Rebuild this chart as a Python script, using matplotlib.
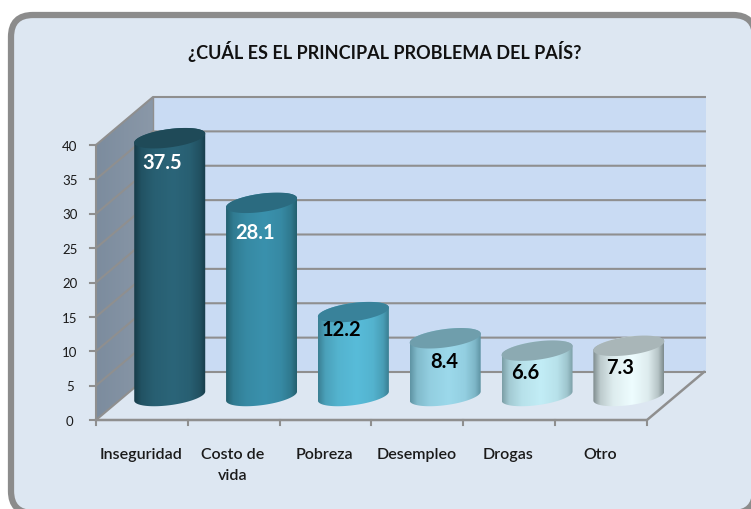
import numpy as np
import matplotlib
matplotlib.use('Agg')
import matplotlib.pyplot as plt
from matplotlib.colors import LinearSegmentedColormap, to_rgb
from matplotlib.patches import FancyBboxPatch, Polygon

plt.rcParams['font.family'] = ['Lato', 'DejaVu Sans']

title = '¿CUÁL ES EL PRINCIPAL PROBLEMA DEL PAÍS?'
categories = ['Inseguridad', 'Costo de\nvida', 'Pobreza', 'Desempleo', 'Drogas', 'Otro']
values = [37.5, 28.1, 12.2, 8.4, 6.6, 7.3]
y_ticks = [0, 5, 10, 15, 20, 25, 30, 35, 40]

side_colors = ['#173c49', '#24606f', '#3a7f93', '#5f94a4', '#7c9fa7', '#7f8c8e']
mid_colors = ['#2b6579', '#3a91ad', '#58bcd9', '#9cd9eb', '#c2edf6', '#eefdff']
top_colors = ['#1f4a58', '#2b6b80', '#39829a', '#6f9eac', '#8caab2', '#a9b6b8']
label_colors = ['white', 'white', 'black', 'black', 'black', 'black']
# nudges of the value labels in pixels
label_dx = [-8, -6, -12, -1, -12, -9]
label_dy = [-24, -29, -17, -23, -21, -21]

W, H = 751, 510
X0, Y0 = 96, 421          # front corner of the axes, in pixels
CAT_W, UNIT = 91.83, 6.875  # pixels per category / per value unit
DX = 57 / CAT_W            # depth of the box
DY = 48 / UNIT
GRAY = '#8f8f8f'


def blend(c1, c2, f):
    c1, c2 = np.array(to_rgb(c1)), np.array(to_rgb(c2))
    return tuple(c1 + (c2 - c1) * f)


fig = plt.figure(figsize=(W / 100, H / 100), dpi=100, facecolor='white')
bg = fig.add_axes([0, 0, 1, 1])
bg.set_xlim(0, W)
bg.set_ylim(H, 0)
bg.axis('off')
bg.add_patch(FancyBboxPatch((11, 16), 744, 498, boxstyle='round,pad=0,rounding_size=22',
                            fc='#dde7f2', ec='#8c8c8c', lw=4.5))

ax = fig.add_axes([0, 0, 1, 1])
ax.patch.set_alpha(0)
xlim = (-X0 / CAT_W, (W - X0) / CAT_W)
ylim = ((Y0 - H) / UNIT, Y0 / UNIT)
ax.axis('off')
n = len(categories)
top = y_ticks[-1]
back_end = DX + n + 2 / CAT_W

# back wall, side wall
ax.add_patch(Polygon([(DX, DY), (back_end, DY), (back_end, DY + top), (DX, DY + top)],
                     fc='#c9dbf3', ec='none', zorder=1))
wall = Polygon([(0, 0), (DX, DY), (DX, DY + top), (0, top)], fc='none', ec='none', zorder=2)
ax.add_patch(wall)
im = ax.imshow(np.linspace(0, 1, 64).reshape(1, -1),
               cmap=LinearSegmentedColormap.from_list('w', ['#7c8c9e', '#8a98a8']),
               extent=(0, DX, 0, DY + top), aspect='auto', zorder=2)
im.set_clip_path(wall)

# gridlines
for t in y_ticks:
    ax.plot([0, DX, back_end], [t, t + DY, t + DY], color=GRAY, lw=1.5, zorder=3,
            solid_capstyle='butt')
    ax.plot([-0.065, 0], [t, t], color=GRAY, lw=1.5, zorder=3)
    ax.text(-0.285, t - 0.1, str(t), ha='center', va='center', fontsize=9.5, color='#1a1a1a')
ax.plot([DX, DX], [DY, DY + top], color=GRAY, lw=1, zorder=3)
ax.plot([0, 0], [0, top], color=GRAY, lw=1.5, zorder=3)
ax.plot([0, n, n + DX], [0, 0, DY], color=GRAY, lw=1.8, zorder=3)
for i in range(n + 1):
    ax.plot([i, i], [0, -0.75], color=GRAY, lw=1.5, zorder=3)

# cylinders
a = 35.5 / CAT_W
b = 9.2 / UNIT
tilt = 4.5 / UNIT / a
t = np.linspace(0, 2 * np.pi, 181)
for i, v in enumerate(values):
    cx = i + 0.5 + DX / 2 - 0.7 / CAT_W
    base = DY / 2
    xs = cx + a * np.cos(t)
    dy = tilt * a * np.cos(t) + b * np.sin(t)
    lower = np.sin(t) < 0
    order = np.argsort(xs[lower])
    low_x, low_y = xs[lower][order], (base + dy[lower])[order]
    upper_order = np.argsort(xs[~lower])[::-1]
    up_x, up_y = xs[~lower][upper_order], (base + v + dy[~lower])[upper_order]
    body = Polygon(np.column_stack([np.r_[low_x, up_x], np.r_[low_y, up_y]]),
                   fc='none', ec='none', zorder=5)
    ax.add_patch(body)
    s, m = side_colors[i], mid_colors[i]
    cmap = LinearSegmentedColormap.from_list(
        'c%d' % i,
        [(0, s), (0.1, blend(s, m, 0.55)), (0.28, blend(s, m, 0.85)), (0.55, m),
         (0.78, blend(s, m, 0.85)), (0.92, blend(s, m, 0.5)), (1, s)])
    im = ax.imshow(np.linspace(0, 1, 128).reshape(1, -1), cmap=cmap,
                   extent=(cx - a, cx + a, base - b - 1, base + v + b), aspect='auto', zorder=5)
    im.set_clip_path(body)
    ax.add_patch(Polygon(np.column_stack([xs, base + v + dy]), fc=top_colors[i], ec='none', zorder=6))
    ax.annotate('%.1f' % v, (cx, base + v), xytext=(label_dx[i] * 0.72, label_dy[i] * 0.72),
                textcoords='offset points', ha='center', va='center', fontsize=14.5,
                fontweight='bold', color=label_colors[i], zorder=7)

# category labels
for i, c in enumerate(categories):
    ax.text(i + 0.49, -3.9, c, ha='center', va='top', fontsize=11.5, color='#1a1a1a',
            linespacing=1.65, fontweight='semibold')

ax.set_xlim(xlim)
ax.set_ylim(ylim)

bg.text(385, 52, title, ha='center', va='center', fontsize=13, fontweight='bold', color='#111111')

fig.savefig('out.png', dpi=100, facecolor='white')
